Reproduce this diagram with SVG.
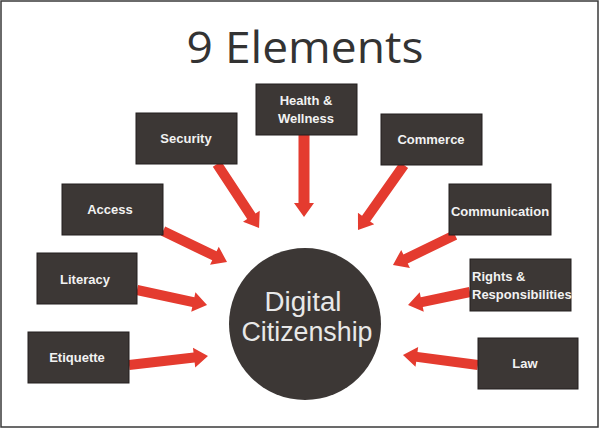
<svg xmlns="http://www.w3.org/2000/svg" width="600" height="429" viewBox="0 0 600 429">
<style>
.box{fill:#3c3735;stroke:#231f1e;stroke-width:1}
.lbl{font-family:"Liberation Sans",Arial,sans-serif;font-weight:bold;font-size:13px;fill:#f2f2f2;text-anchor:middle}
.arr{fill:#e43b2f}
.title{font-family:"Open Sans","Liberation Sans",sans-serif;font-size:44px;fill:#333333;text-anchor:middle}
.ctext{font-family:"Liberation Sans",Arial,sans-serif;font-size:27px;fill:#e8e8e8;text-anchor:middle}
</style>
<rect x="1" y="1" width="597" height="426" fill="#ffffff" stroke="#3a3a3a" stroke-width="1.5"/>
<text class="title" x="305" y="63" textLength="237" lengthAdjust="spacingAndGlyphs">9 Elements</text>
<g id="connectors">
<polygon class="arr" transform="translate(217,164) rotate(56.7)" points="0,-5 62.6,-5 62.6,-10 76.6,0 62.6,10 62.6,5 0,5"/>
<polygon class="arr" transform="translate(304,135) rotate(90)" points="0,-5.5 68,-5.5 68,-10 82,0 68,10 68,5.5 0,5.5"/>
<polygon class="arr" transform="translate(404,165) rotate(125.3)" points="0,-5 65.6,-5 65.6,-10 79.6,0 65.6,10 65.6,5 0,5"/>
<polygon class="arr" transform="translate(163,231) rotate(25.8)" points="0,-5 57.1,-5 57.1,-10 71.1,0 57.1,10 57.1,5 0,5"/>
<polygon class="arr" transform="translate(455,235) rotate(154.2)" points="0,-5 54.9,-5 54.9,-10 68.9,0 54.9,10 54.9,5 0,5"/>
<polygon class="arr" transform="translate(137,290) rotate(12.1)" points="0,-5 57.6,-5 57.6,-10 71.6,0 57.6,10 57.6,5 0,5"/>
<polygon class="arr" transform="translate(470,292) rotate(168.2)" points="0,-5 49.3,-5 49.3,-10 63.3,0 49.3,10 49.3,5 0,5"/>
<polygon class="arr" transform="translate(129,365) rotate(-6.5)" points="0,-5 65.5,-5 65.5,-10 79.5,0 65.5,10 65.5,5 0,5"/>
<polygon class="arr" transform="translate(478,365) rotate(187.6)" points="0,-5 61.7,-5 61.7,-10 75.7,0 61.7,10 61.7,5 0,5"/>
</g>
<g id="center">
<circle cx="305" cy="324" r="76" fill="#3c3735"/>
<text class="ctext" x="303" y="311" textLength="77" lengthAdjust="spacingAndGlyphs">Digital</text>
<text class="ctext" x="307" y="341" textLength="131" lengthAdjust="spacingAndGlyphs">Citizenship</text>
</g>
<g id="health">
<rect class="box" x="256" y="84" width="101" height="51"/>
<text class="lbl" x="306" y="105">Health &amp;</text>
<text class="lbl" x="306" y="123">Wellness</text>
</g>
<g id="security">
<rect class="box" x="136" y="113" width="101" height="51"/>
<text class="lbl" x="186" y="143">Security</text>
</g>
<g id="commerce">
<rect class="box" x="381" y="114" width="101" height="51"/>
<text class="lbl" x="431" y="144">Commerce</text>
</g>
<g id="access">
<rect class="box" x="62" y="184" width="101" height="51"/>
<text class="lbl" x="110" y="214">Access</text>
</g>
<g id="communication">
<rect class="box" x="449" y="184" width="102" height="51"/>
<text class="lbl" x="500" y="216">Communication</text>
</g>
<g id="literacy">
<rect class="box" x="37" y="253" width="100" height="51"/>
<text class="lbl" x="85" y="284">Literacy</text>
</g>
<g id="rights">
<rect class="box" x="470" y="259" width="101" height="52"/>
<text class="lbl" x="472" y="281" style="text-anchor:start">Rights &amp;</text>
<text class="lbl" x="472" y="299" style="text-anchor:start">Responsibilities</text>
</g>
<g id="etiquette">
<rect class="box" x="28" y="332" width="101" height="51"/>
<text class="lbl" x="77" y="362">Etiquette</text>
</g>
<g id="law">
<rect class="box" x="478" y="338" width="100" height="51"/>
<text class="lbl" x="525" y="368">Law</text>
</g>
</svg>
